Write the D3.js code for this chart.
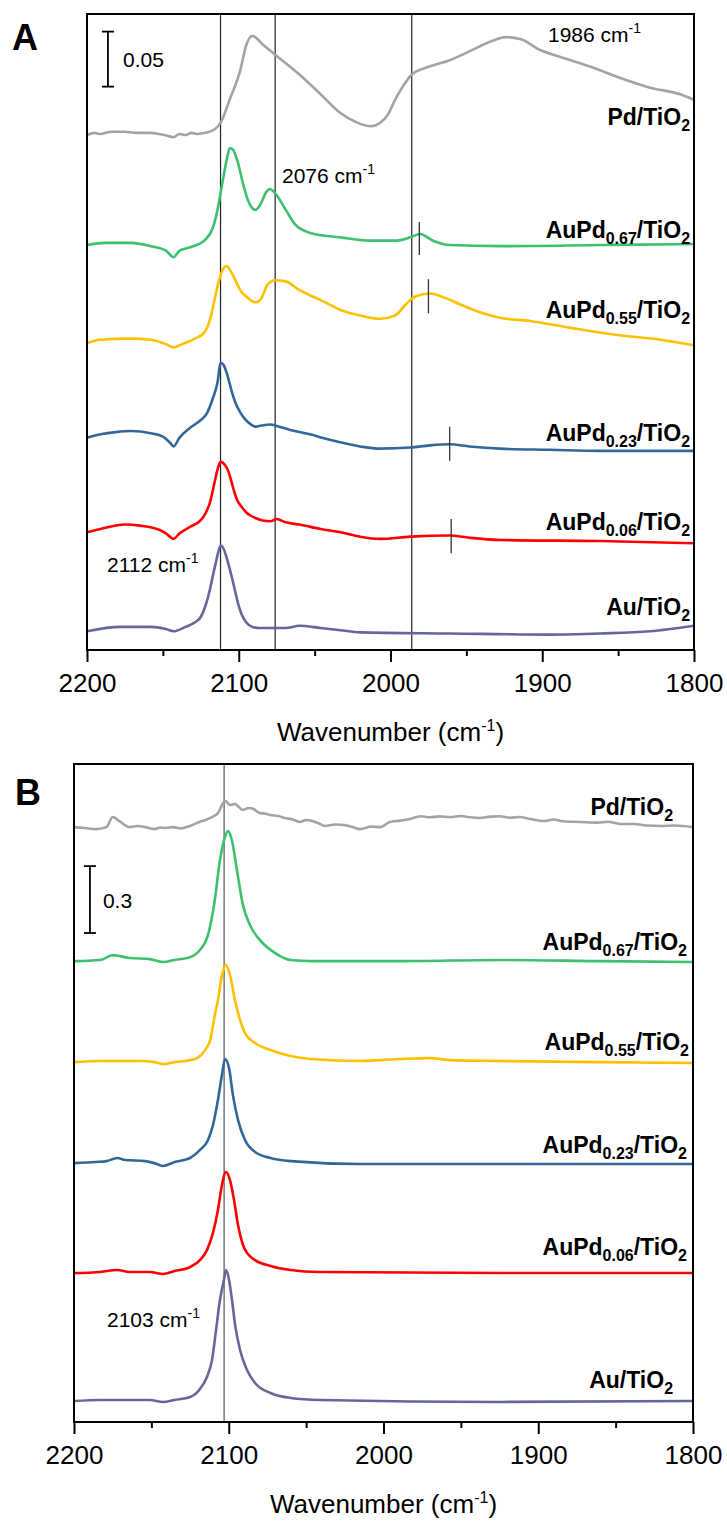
<!DOCTYPE html>
<html><head><meta charset="utf-8">
<script src="https://cdn.jsdelivr.net/npm/d3@7"></script>
<style>body{margin:0;background:#fff}svg{display:block;font-family:"Liberation Sans",Arial,sans-serif}</style>
</head><body>
<svg id="c" width="727" height="1521"></svg>
<script>
// ---------- DATA ----------
const xTicks = [2200, 2100, 2000, 1900, 1800];
const xMinorTicks = [2150, 2050, 1950, 1850];
const seriesNames = ["Pd/TiO2", "AuPd0.67/TiO2", "AuPd0.55/TiO2", "AuPd0.23/TiO2", "AuPd0.06/TiO2", "Au/TiO2"];
const seriesColors = ["#a3a3a3", "#3dc070", "#ffc000", "#336699", "#ff0000", "#666699"];

// Panel A (stacked absorbance, wavenumber cm-1)
const pdA = [[2200,0.468],[2195,0.470],[2191,0.469],[2184,0.471],[2175,0.471],[2168,0.470],[2158,0.470],[2153,0.469],[2149,0.468],[2143,0.466],[2139,0.469],[2135,0.468],[2131,0.470],[2127,0.469],[2122,0.470],[2116,0.473],[2112,0.479],[2106,0.500],[2099,0.527],[2095,0.550],[2091,0.558],[2084,0.550],[2076,0.541],[2060,0.523],[2046,0.505],[2033,0.488],[2023,0.480],[2013,0.476],[2007,0.479],[2002,0.486],[1997,0.500],[1990,0.516],[1986,0.523],[1977,0.529],[1961,0.536],[1948,0.544],[1934,0.553],[1924,0.557],[1914,0.555],[1901,0.545],[1888,0.539],[1868,0.530],[1849,0.520],[1829,0.511],[1809,0.505],[1800,0.500]];
const au67A = [[2200,0.368],[2188,0.370],[2171,0.370],[2158,0.367],[2148,0.363],[2143,0.357],[2139,0.363],[2132,0.366],[2122,0.373],[2117,0.384],[2114,0.400],[2111,0.423],[2108,0.445],[2106,0.456],[2104,0.455],[2101,0.445],[2097,0.423],[2094,0.409],[2089,0.400],[2085,0.407],[2082,0.416],[2079.5,0.419],[2076,0.415],[2069,0.400],[2063,0.387],[2053,0.379],[2033,0.375],[2013,0.372],[1997,0.372],[1987,0.375],[1980.5,0.378],[1972,0.372],[1961,0.368],[1928,0.367],[1862,0.368],[1800,0.369]];
const au55A = [[2200,0.279],[2191,0.282],[2171,0.283],[2158,0.282],[2148,0.278],[2143,0.275],[2139,0.277],[2129,0.283],[2123,0.288],[2119,0.300],[2116,0.318],[2113,0.336],[2110,0.347],[2108,0.349],[2104,0.341],[2099,0.327],[2094,0.320],[2089,0.316],[2085,0.320],[2081,0.332],[2076,0.336],[2069,0.335],[2060,0.327],[2046,0.318],[2033,0.309],[2020,0.304],[2007,0.301],[1997,0.304],[1990,0.314],[1984,0.321],[1974,0.324],[1964,0.320],[1954,0.314],[1941,0.307],[1928,0.302],[1908,0.299],[1882,0.293],[1849,0.286],[1822,0.282],[1800,0.277]];
const au23A = [[2200,0.193],[2191,0.196],[2181,0.198],[2171,0.199],[2158,0.197],[2150,0.194],[2145,0.188],[2143,0.185],[2139,0.193],[2132,0.202],[2125,0.209],[2121,0.215],[2117,0.229],[2114,0.243],[2112,0.261],[2110,0.259],[2108,0.252],[2106,0.242],[2104,0.232],[2102,0.224],[2099,0.216],[2096,0.210],[2092,0.205],[2089,0.203],[2085,0.204],[2079,0.205],[2076,0.204],[2066,0.200],[2053,0.196],[2040,0.191],[2020,0.185],[2007,0.183],[1987,0.184],[1974,0.186],[1961,0.187],[1948,0.185],[1928,0.183],[1895,0.182],[1862,0.181],[1800,0.181]];
const au06A = [[2200,0.107],[2191,0.110],[2175,0.114],[2165,0.113],[2152,0.109],[2148,0.106],[2143,0.101],[2139,0.106],[2132,0.112],[2125,0.118],[2122,0.124],[2119,0.134],[2116,0.152],[2114,0.164],[2112,0.171],[2109,0.168],[2107,0.163],[2105,0.154],[2103,0.144],[2101,0.136],[2098,0.130],[2095,0.125],[2092,0.122],[2089,0.120],[2085,0.118],[2079,0.117],[2075,0.119],[2069,0.116],[2060,0.114],[2046,0.110],[2033,0.107],[2020,0.103],[2007,0.101],[1987,0.103],[1961,0.104],[1948,0.102],[1928,0.100],[1862,0.099],[1800,0.097]];
const auA = [[2200,0.017],[2178,0.021],[2158,0.021],[2148,0.019],[2143,0.017],[2135,0.021],[2129,0.025],[2125,0.030],[2122,0.040],[2119,0.055],[2117,0.068],[2115,0.080],[2113.5,0.089],[2112,0.095],[2110,0.092],[2108,0.084],[2106,0.074],[2104,0.063],[2102,0.051],[2100,0.040],[2098,0.032],[2095,0.025],[2091,0.021],[2086,0.020],[2079,0.020],[2069,0.020],[2060,0.022],[2046,0.020],[2033,0.018],[2020,0.016],[1961,0.015],[1895,0.014],[1862,0.015],[1829,0.017],[1800,0.022]];

// Panel B
const pdB = [[2200,2.668],[2193,2.664],[2186,2.659],[2179,2.668],[2175,2.713],[2170,2.691],[2164,2.668],[2159,2.673],[2154,2.668],[2148,2.659],[2144,2.666],[2141,2.664],[2136,2.668],[2131,2.662],[2125,2.673],[2119,2.691],[2115,2.700],[2112,2.709],[2107,2.731],[2102.4,2.785],[2099,2.767],[2096,2.772],[2093,2.755],[2091,2.745],[2087,2.754],[2084,2.749],[2080,2.731],[2076,2.728],[2073,2.722],[2068,2.718],[2064,2.709],[2059,2.703],[2054,2.691],[2050,2.700],[2046,2.695],[2042,2.685],[2038,2.673],[2031,2.680],[2025,2.677],[2020,2.668],[2015,2.659],[2008,2.670],[2002,2.668],[1996,2.691],[1989,2.697],[1983,2.704],[1976,2.717],[1970,2.712],[1964,2.716],[1957,2.713],[1950,2.718],[1944,2.712],[1938,2.709],[1931,2.715],[1925,2.717],[1918,2.710],[1912,2.713],[1905,2.704],[1896,2.695],[1890,2.702],[1884,2.694],[1873,2.691],[1862,2.688],[1855,2.692],[1847,2.682],[1838,2.682],[1830,2.675],[1821,2.673],[1812,2.675],[1800,2.668]];
const au67B = [[2200,2.067],[2183,2.072],[2175,2.094],[2164,2.081],[2151,2.076],[2142.5,2.063],[2135,2.072],[2125,2.085],[2118.6,2.117],[2113.4,2.184],[2109,2.341],[2105.7,2.520],[2103,2.610],[2100.5,2.650],[2098,2.610],[2094.7,2.475],[2090.8,2.318],[2086.3,2.229],[2079.8,2.161],[2070,2.103],[2060,2.072],[2047,2.067],[1989,2.067],[1925,2.072],[1860,2.067],[1800,2.063]];
const au55B = [[2200,1.614],[2183,1.619],[2157,1.619],[2148,1.614],[2142.5,1.605],[2135,1.614],[2125,1.623],[2120.5,1.632],[2115.3,1.668],[2112,1.713],[2109,1.825],[2107,1.892],[2104.4,2.004],[2101.8,2.049],[2099.2,2.004],[2096,1.892],[2092.7,1.803],[2089.5,1.744],[2083,1.700],[2073,1.668],[2060,1.641],[2047,1.628],[2015,1.619],[1989,1.628],[1970,1.632],[1957,1.623],[1925,1.619],[1860,1.614],[1800,1.610]];
const au23B = [[2200,1.161],[2186,1.166],[2179,1.170],[2172,1.184],[2167,1.175],[2154,1.170],[2148,1.161],[2142.5,1.148],[2135,1.166],[2125,1.184],[2118.6,1.220],[2113.4,1.265],[2110.2,1.332],[2107,1.444],[2104.4,1.556],[2102.4,1.628],[2099.8,1.587],[2097.3,1.466],[2094,1.354],[2089.5,1.265],[2083,1.211],[2073,1.184],[2060,1.170],[2015,1.157],[1925,1.157],[1800,1.157]];
const au06B = [[2200,0.668],[2183,0.673],[2172,0.682],[2164,0.673],[2151,0.673],[2142.5,0.664],[2135,0.677],[2125,0.695],[2118.6,0.726],[2114.1,0.771],[2110.2,0.848],[2107,0.951],[2104.4,1.063],[2101.8,1.121],[2099.2,1.085],[2096.6,0.996],[2094,0.883],[2090.8,0.794],[2087.6,0.753],[2083,0.726],[2073,0.700],[2060,0.682],[2041,0.673],[1925,0.668],[1800,0.668]];
const auB = [[2200,0.094],[2183,0.099],[2164,0.099],[2151,0.099],[2142.5,0.090],[2135,0.099],[2125,0.112],[2118.6,0.148],[2114.1,0.202],[2110.8,0.278],[2108.2,0.413],[2105.7,0.547],[2103.1,0.637],[2101.8,0.682],[2099.8,0.637],[2097.9,0.547],[2095.9,0.435],[2092.7,0.323],[2088.2,0.233],[2083,0.175],[2073,0.130],[2060,0.108],[2041,0.099],[1925,0.090],[1800,0.094]];

// Reference lines / markers
const refLinesA = [2112, 2076, 1986];
const refLinesB = [2103];
const markerWnA = [1981, 1975, 1961, 1960];
const markerLoA = [0.359, 0.306, 0.172, 0.088];
const markerHiA = [0.389, 0.337, 0.203, 0.119];

// Label positions (wavenumber of right end, absorbance of baseline)
const labelYA = [0.477, 0.3745, 0.302, 0.190, 0.109, 0.032];
const labelXA = [1802.6, 1802.6, 1802.6, 1802.6, 1802.6, 1802.6];
const labelYB = [2.722, 2.117, 1.668, 1.206, 0.749, 0.152];
const labelXB = [1812.9, 1803.9, 1802.6, 1803.9, 1803.9, 1812.9];

// ---------- DRAW ----------
const svg = d3.select("#c");
svg.append("rect").attr("width",727).attr("height",1521).attr("fill","#fff");

function subLabel(g, x, y, name) {
  const t = g.append("text").attr("x", x).attr("y", y).attr("text-anchor","end")
    .attr("font-weight","bold").attr("font-size",23).attr("fill","#000");
  const m = name.match(/^(AuPd|Pd|Au)([0-9.]*)\/TiO2$/);
  t.append("tspan").text(m[1]);
  if (m[2]) {
    t.append("tspan").attr("font-size",16).attr("dy",6).text(m[2]);
    t.append("tspan").attr("dy",-6).text("/TiO");
  } else {
    t.append("tspan").text("/TiO");
  }
  t.append("tspan").attr("font-size",16).attr("dy",6).text("2");
}

function supText(g, x, y, main, sup, fs, sfs, dy) {
  const t = g.append("text").attr("x",x).attr("y",y).attr("font-size",fs).attr("fill","#000");
  t.append("tspan").text(main);
  t.append("tspan").attr("font-size",sfs).attr("dy",-dy).text(sup);
  return t;
}

function panel(opts) {
  const {x, y, series, refLines, letter, letterX, letterY, labelX, labelY} = opts;
  const g = svg.append("g");
  const [x0,x1] = x.range(), [yb,yt] = y.range();
  g.selectAll(".ref").data(refLines).join("line")
    .attr("x1", d=>x(d)).attr("x2", d=>x(d)).attr("y1", yt).attr("y2", yb)
    .attr("stroke", opts.refColor).attr("stroke-width", 1.2);
  const line = d3.line().x(d=>x(d[0])).y(d=>y(d[1])).curve(d3.curveMonotoneX);
  series.forEach((s,i)=>{
    g.append("path").attr("d", line(s)).attr("fill","none")
      .attr("stroke", seriesColors[i]).attr("stroke-width", 2.6).attr("stroke-linejoin","round");
  });
  g.append("rect").attr("x",x0).attr("y",yt).attr("width",x1-x0).attr("height",yb-yt)
    .attr("fill","none").attr("stroke","#000").attr("stroke-width",2);
  const ax = g.append("g").attr("transform",`translate(0,${yb})`)
    .call(d3.axisBottom(x).tickValues(xTicks).tickSize(12).tickPadding(12).tickFormat(d3.format("d")));
  ax.select(".domain").remove();
  ax.selectAll("line").attr("stroke","#000").attr("stroke-width",2);
  ax.selectAll("text").attr("font-size",26).attr("font-family","Liberation Sans, Arial, sans-serif").attr("fill","#000").attr("dy","0.71em");
  const axm = g.append("g").attr("transform",`translate(0,${yb})`)
    .call(d3.axisBottom(x).tickValues(xMinorTicks).tickSize(6).tickFormat(""));
  axm.select(".domain").remove();
  axm.selectAll("line").attr("stroke","#000").attr("stroke-width",2);
  const tt = g.append("text").attr("x",(x0+x1)/2).attr("y",yb+91).attr("text-anchor","middle")
    .attr("font-size",26).attr("fill","#000");
  tt.append("tspan").text("Wavenumber (cm");
  tt.append("tspan").attr("font-size",16).attr("dy",-10).text("-1");
  tt.append("tspan").attr("dy",10).text(")");
  g.append("text").attr("x",letterX).attr("y",letterY).attr("font-size",36).attr("font-weight","bold").text(letter);
  seriesNames.forEach((n,i)=> subLabel(g, x(labelX[i]), y(labelY[i]), n));
  return g;
}

// Panel A
const xA = d3.scaleLinear().domain([2200,1800]).range([87,694]);
const yA = d3.scaleLinear().domain([0,0.578]).range([650,14]);
const gA = panel({x:xA, y:yA, series:[pdA,au67A,au55A,au23A,au06A,auA], refLines:refLinesA, refColor:"#222",
  letter:"A", letterX:12, letterY:50, labelX:labelXA, labelY:labelYA});
gA.selectAll(".mk").data(markerWnA).join("line")
  .attr("x1",d=>xA(d)).attr("x2",d=>xA(d))
  .attr("y1",(d,i)=>yA(markerLoA[i])).attr("y2",(d,i)=>yA(markerHiA[i]))
  .attr("stroke","#333").attr("stroke-width",1.3);
const sbA = {wn:2186.2, lo:0.512, hi:0.562};
gA.append("line").attr("x1",xA(sbA.wn)).attr("x2",xA(sbA.wn)).attr("y1",yA(sbA.lo)).attr("y2",yA(sbA.hi)).attr("stroke","#000").attr("stroke-width",1.8);
[sbA.lo,sbA.hi].forEach(v=>gA.append("line").attr("x1",xA(sbA.wn)-6).attr("x2",xA(sbA.wn)+6).attr("y1",yA(v)).attr("y2",yA(v)).attr("stroke","#000").attr("stroke-width",1.8));
gA.append("text").attr("x",xA(2176.3)).attr("y",yA(0.530)).attr("font-size",21).text("0.05");
supText(gA, xA(1896.2), yA(0.5527), "1986 cm", "-1", 21, 14, 9);
supText(gA, xA(2071.5), yA(0.4245), "2076 cm", "-1", 21, 14, 9);
supText(gA, xA(2186.8), yA(0.0709), "2112 cm", "-1", 21, 14, 9);

// Panel B
const xB = d3.scaleLinear().domain([2200,1800]).range([74,693]);
const yB = d3.scaleLinear().domain([0,2.951]).range([1422,764]);
const gB = panel({x:xB, y:yB, series:[pdB,au67B,au55B,au23B,au06B,auB], refLines:refLinesB, refColor:"#555",
  letter:"B", letterX:15, letterY:805, labelX:labelXB, labelY:labelYB});
const sbB = {wn:2189.7, lo:2.193, hi:2.493};
gB.append("line").attr("x1",xB(sbB.wn)).attr("x2",xB(sbB.wn)).attr("y1",yB(sbB.lo)).attr("y2",yB(sbB.hi)).attr("stroke","#000").attr("stroke-width",1.8);
[sbB.lo,sbB.hi].forEach(v=>gB.append("line").attr("x1",xB(sbB.wn)-6).attr("x2",xB(sbB.wn)+6).attr("y1",yB(v)).attr("y2",yB(v)).attr("stroke","#000").attr("stroke-width",1.8));
gB.append("text").attr("x",xB(2181.3)).attr("y",yB(2.305)).attr("font-size",21).text("0.3");
supText(gB, xB(2178.7), yB(0.426), "2103 cm", "-1", 21, 14, 9);
</script>
</body></html>
